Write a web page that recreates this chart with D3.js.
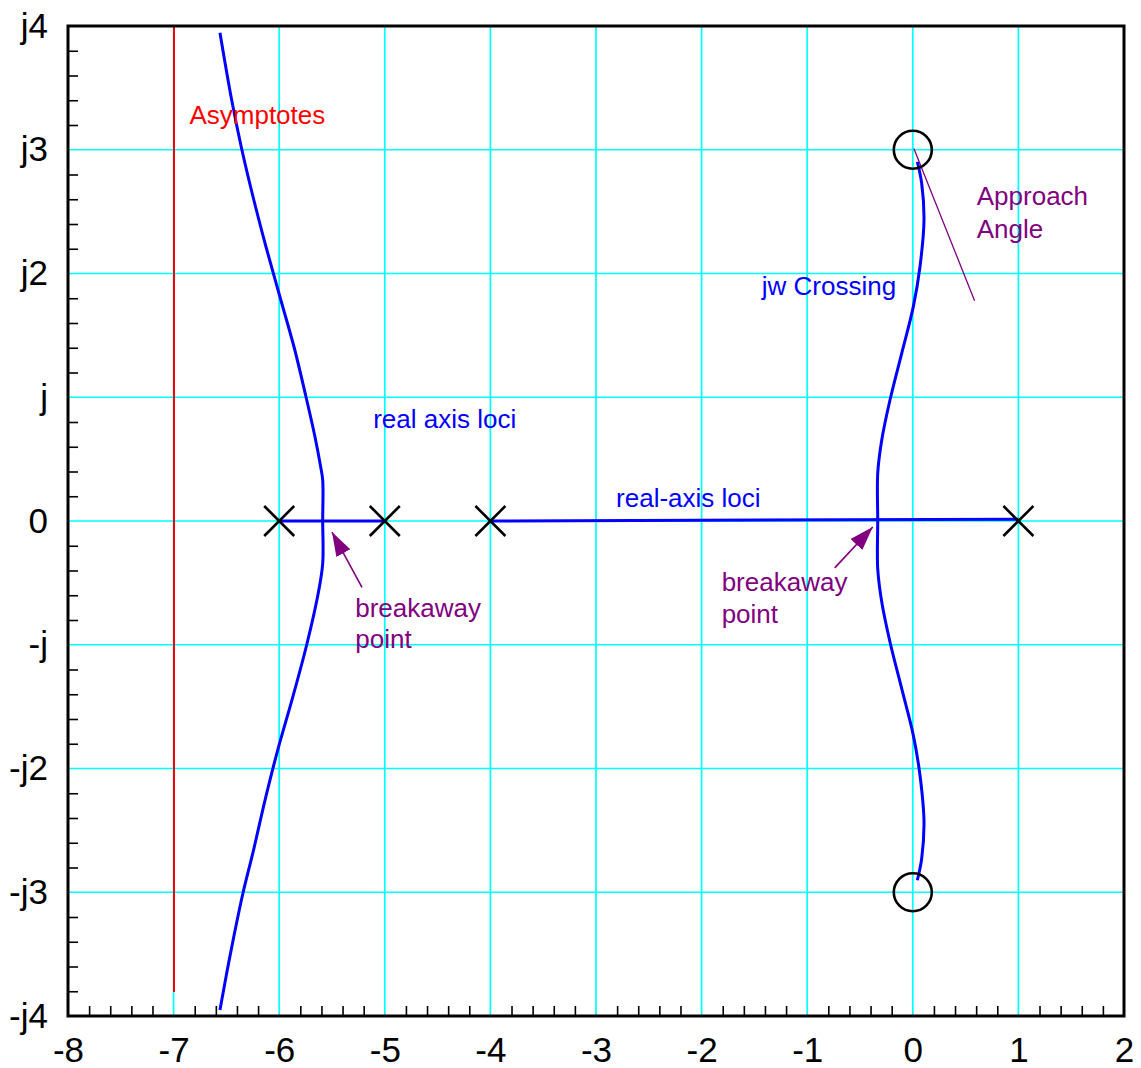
<!DOCTYPE html>
<html>
<head>
<meta charset="utf-8">
<script src="https://cdn.jsdelivr.net/npm/d3@7"></script>
<style>
  html, body { margin: 0; padding: 0; background: #fff; }
  svg { display: block; font-family: "Liberation Sans", Arial, Helvetica, sans-serif; }
</style>
</head>
<body>
<svg id="chart" width="1141" height="1068"></svg>
<script>
// Root locus: open-loop poles, zeros and the traced branches (s-plane coordinates)
const realTicks = [-8, -7, -6, -5, -4, -3, -2, -1, 0, 1, 2];
const imagTicks = [-4, -3, -2, -1, 0, 1, 2, 3, 4];
const poles = [[-6, 0], [-5, 0], [-4, 0], [1, 0]];
const zeros = [[0, 3], [0, -3]];
const asymptoteRe = -7;
const asymptoteIm = [4, -3.81];

const leftBranch = [
  [-6.561, 3.946], [-6.450, 3.402], [-6.355, 3.006], [-6.245, 2.610], [-6.122, 2.206],
  [-5.990, 1.802], [-5.857, 1.398], [-5.746, 1.002], [-5.661, 0.679], [-5.607, 0.436],
  [-5.588, 0.331], [-5.588, 0.000], [-5.588, -0.342], [-5.630, -0.582], [-5.740, -1.002],
  [-5.879, -1.446], [-6.014, -1.851], [-6.134, -2.255], [-6.243, -2.659], [-6.343, -3.006],
  [-6.430, -3.359], [-6.497, -3.653], [-6.561, -3.952]
];
const rightBranch = [
  [0.043, 2.903], [0.084, 2.729], [0.106, 2.432], [0.068, 2.055], [0.005, 1.732],
  [-0.105, 1.355], [-0.216, 0.978], [-0.294, 0.655], [-0.332, 0.388], [-0.332, 0.000],
  [-0.332, -0.388], [-0.294, -0.655], [-0.216, -0.978], [-0.105, -1.355], [0.005, -1.732],
  [0.068, -2.055], [0.106, -2.432], [0.084, -2.729], [0.043, -2.903]
];
const realAxisLoci = [
  [[-6, 0], [-5, 0]],
  [[-4, 0], [1, 0.014]]
];
const approachLine = [[0.01, 3.01], [0.585, 1.78]];

const textNotes = [
  { text: "Asymptotes", at: [-6.85, 3.206], color: "#ff0000" },
  { text: "real axis loci", at: [-5.11, 0.752], color: "#0000ff" },
  { text: "real-axis loci", at: [-2.81, 0.113], color: "#0000ff" },
  { text: "jw Crossing", at: [-1.43, 1.826], color: "#0000ff" },
  { text: "Approach", at: [0.606, 2.554], color: "#800080" },
  { text: "Angle", at: [0.606, 2.287], color: "#800080" },
  { text: "breakaway", at: [-5.28, -0.772], color: "#800080" },
  { text: "point", at: [-5.28, -1.03], color: "#800080" },
  { text: "breakaway", at: [-1.81, -0.566], color: "#800080" },
  { text: "point", at: [-1.81, -0.824], color: "#800080" }
];
const arrowNotes = [
  { from: [-5.216, -0.537], to: [-5.50, -0.089] },
  { from: [-0.739, -0.379], to: [-0.379, -0.048] }
];

const svg = d3.select("#chart");
const x = d3.scaleLinear().domain([-8, 2]).range([68, 1124]);
const y = d3.scaleLinear().domain([-4, 4]).range([1016, 26]);

const CYAN = "#00ffff", BLUE = "#0000ff", PURPLE = "#800080";

// grid
const g = svg.append("g");
g.selectAll("line.gv").data(realTicks.slice(1, -1)).join("line")
  .attr("x1", d => x(d)).attr("x2", d => x(d))
  .attr("y1", y(4)).attr("y2", y(-4))
  .attr("stroke", CYAN).attr("stroke-width", 1.7);
g.selectAll("line.gh").data(imagTicks.slice(1, -1)).join("line")
  .attr("y1", d => y(d)).attr("y2", d => y(d))
  .attr("x1", x(-8)).attr("x2", x(2))
  .attr("stroke", CYAN).attr("stroke-width", 1.7);

// minor ticks (inward), axes labels
const minorX = d3.range(-8, 2.0001, 0.2).map(v => +v.toFixed(1)).filter(v => Math.abs(v - Math.round(v)) > 1e-6);
const minorY = d3.range(-4, 4.0001, 0.2).map(v => +v.toFixed(1)).filter(v => Math.abs(v - Math.round(v)) > 1e-6);

const xMinor = svg.append("g").attr("transform", `translate(0,${y(-4)})`)
  .call(d3.axisBottom(x).tickValues(minorX).tickSize(-10).tickFormat(""));
const yMinor = svg.append("g").attr("transform", `translate(${x(-8)},0)`)
  .call(d3.axisLeft(y).tickValues(minorY).tickSize(-10).tickFormat(""));
[xMinor, yMinor].forEach(a => {
  a.select(".domain").remove();
  a.selectAll(".tick line").attr("stroke", "#000").attr("stroke-width", 1.6);
});

const imagLabel = v => v === 0 ? "0" : (v < 0 ? "-" : "") + "j" + (Math.abs(v) === 1 ? "" : Math.abs(v));

const xAxis = svg.append("g").attr("transform", `translate(0,${y(-4)})`)
  .call(d3.axisBottom(x).tickValues(realTicks).tickSize(0).tickPadding(21).tickFormat(d => d));
const yAxis = svg.append("g").attr("transform", `translate(${x(-8)},0)`)
  .call(d3.axisLeft(y).tickValues(imagTicks).tickSize(0).tickPadding(20).tickFormat(imagLabel));
[xAxis, yAxis].forEach(a => {
  a.select(".domain").remove();
  a.selectAll("text").attr("font-size", 35).attr("fill", "#000")
    .attr("font-family", '"Liberation Sans", Arial, Helvetica, sans-serif');
});

// asymptote (drawn crisp so it stays pure red over the grid line)
svg.append("line")
  .attr("x1", x(asymptoteRe)).attr("x2", x(asymptoteRe))
  .attr("y1", y(asymptoteIm[0])).attr("y2", y(asymptoteIm[1]))
  .attr("stroke", "#ff0000").attr("stroke-width", 2)
  .attr("shape-rendering", "crispEdges");

// locus branches
const branchLine = d3.line().x(d => x(d[0])).y(d => y(d[1])).curve(d3.curveCatmullRom.alpha(0.5));
const straight = d3.line().x(d => x(d[0])).y(d => y(d[1]));
[leftBranch, rightBranch].forEach(b => {
  svg.append("path").attr("d", branchLine(b))
    .attr("fill", "none").attr("stroke", BLUE).attr("stroke-width", 3);
});
realAxisLoci.forEach(seg => {
  svg.append("path").attr("d", straight(seg))
    .attr("fill", "none").attr("stroke", BLUE).attr("stroke-width", 3);
});

// approach-angle line
svg.append("path").attr("d", straight(approachLine))
  .attr("fill", "none").attr("stroke", PURPLE).attr("stroke-width", 1.3);

// poles (x) and zeros (o)
const arm = 15;
poles.forEach(p => {
  const cx = x(p[0]), cy = y(p[1]);
  svg.append("path")
    .attr("d", `M${cx - arm},${cy - arm}L${cx + arm},${cy + arm}M${cx - arm},${cy + arm}L${cx + arm},${cy - arm}`)
    .attr("stroke", "#000").attr("stroke-width", 2.6).attr("fill", "none");
});
zeros.forEach(z => {
  svg.append("circle").attr("cx", x(z[0])).attr("cy", y(z[1])).attr("r", 19)
    .attr("fill", "none").attr("stroke", "#000").attr("stroke-width", 2.6);
});

// arrows
const defs = svg.append("defs");
defs.append("marker").attr("id", "head")
  .attr("viewBox", "0 0 24 16").attr("refX", 24).attr("refY", 8)
  .attr("markerWidth", 24).attr("markerHeight", 16)
  .attr("markerUnits", "userSpaceOnUse").attr("orient", "auto")
  .append("path").attr("d", "M0,0L24,8L0,16Z").attr("fill", PURPLE);
arrowNotes.forEach(a => {
  svg.append("line")
    .attr("x1", x(a.from[0])).attr("y1", y(a.from[1]))
    .attr("x2", x(a.to[0])).attr("y2", y(a.to[1]))
    .attr("stroke", PURPLE).attr("stroke-width", 1.6)
    .attr("marker-end", "url(#head)");
});

// text annotations
svg.selectAll("text.note").data(textNotes).join("text")
  .attr("class", "note")
  .attr("x", d => x(d.at[0])).attr("y", d => y(d.at[1]))
  .attr("fill", d => d.color).attr("font-size", 26)
  .text(d => d.text);

// frame
svg.append("rect")
  .attr("x", x(-8)).attr("y", y(4))
  .attr("width", x(2) - x(-8)).attr("height", y(-4) - y(4))
  .attr("fill", "none").attr("stroke", "#000").attr("stroke-width", 3);
</script>
</body>
</html>
